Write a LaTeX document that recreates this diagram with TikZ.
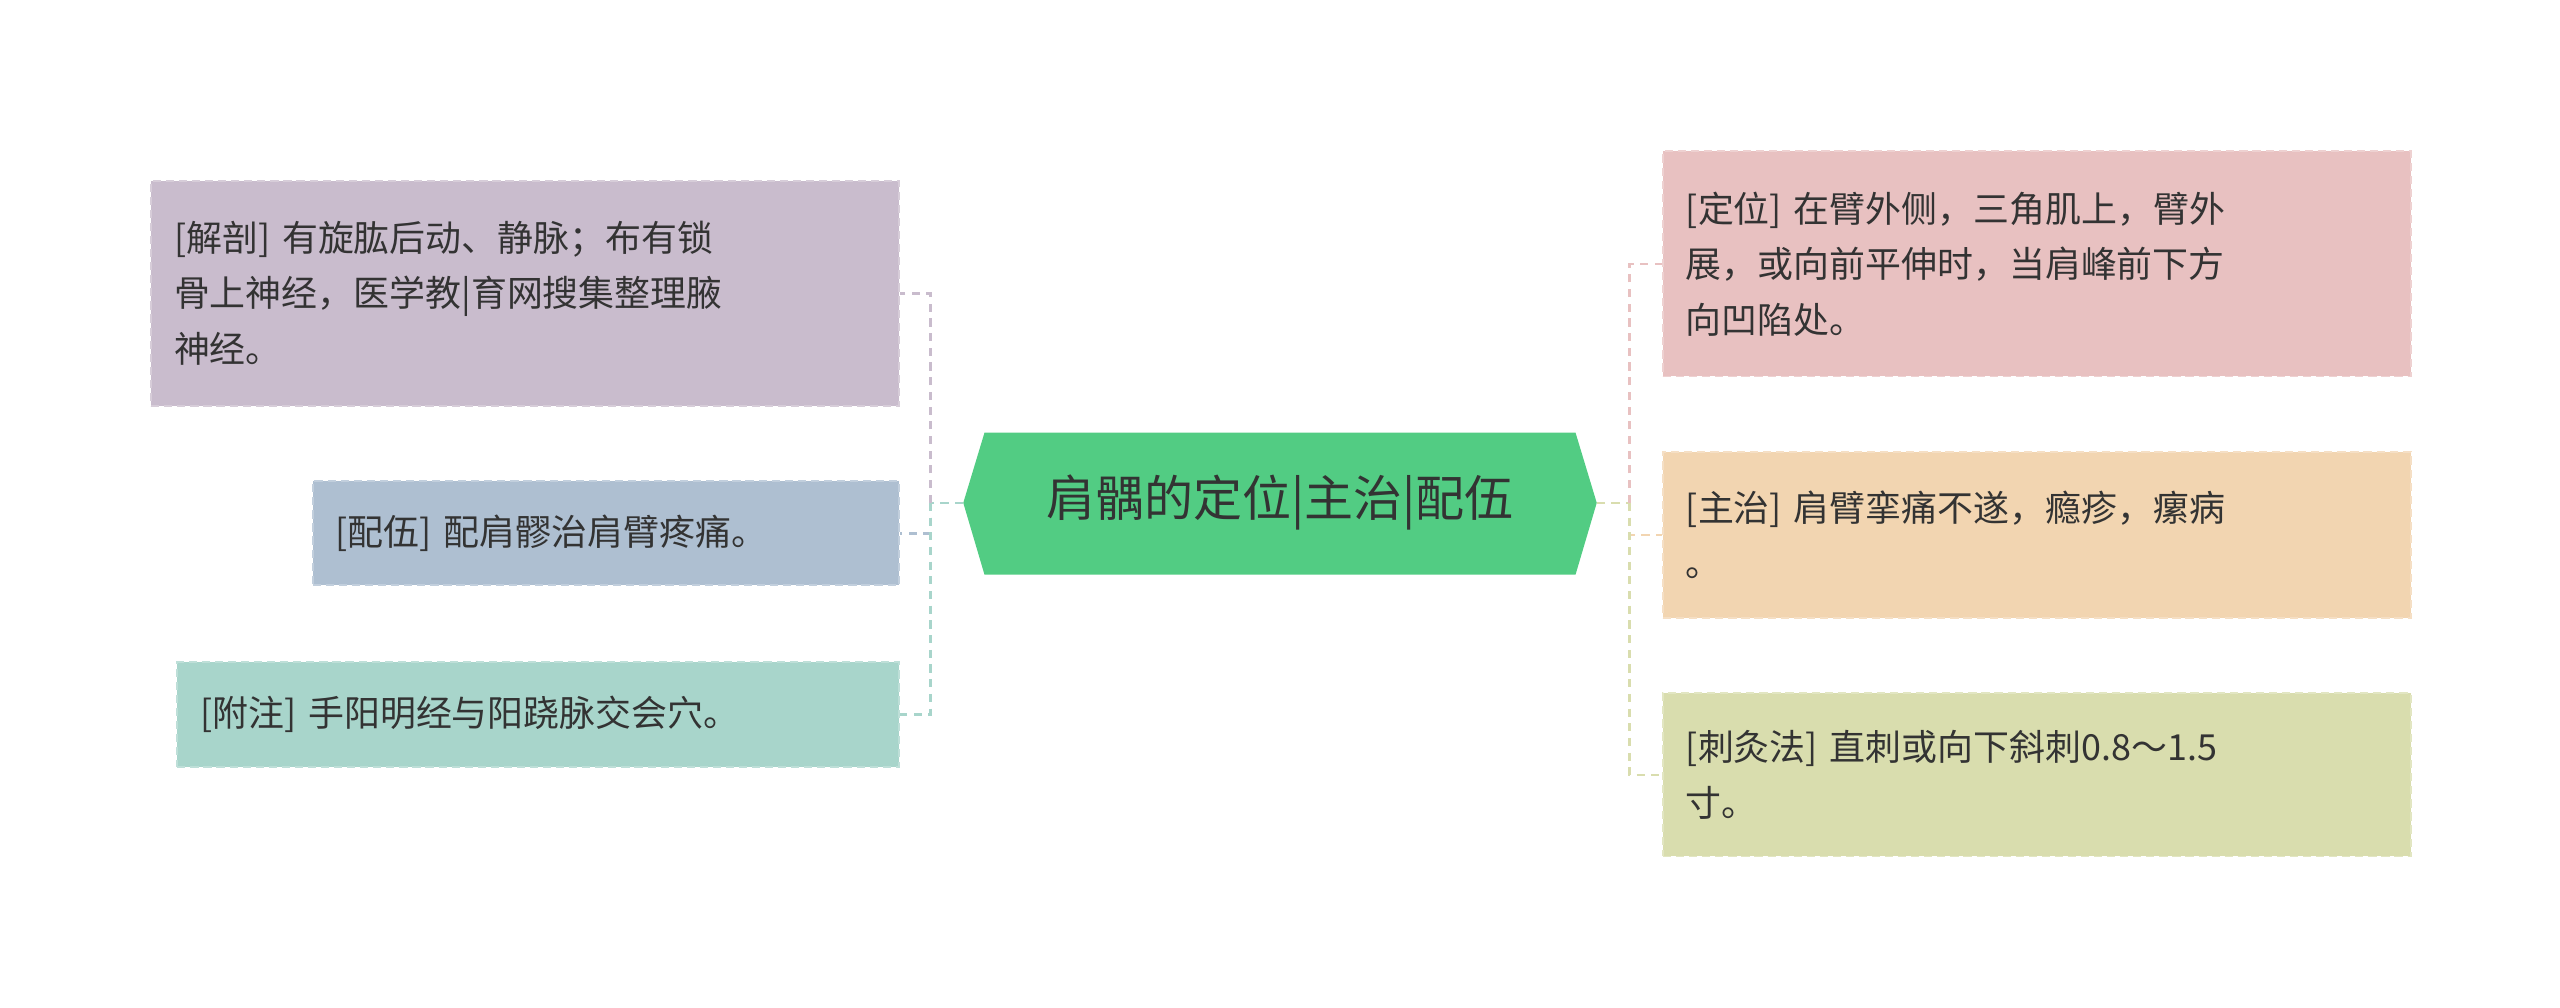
\documentclass[tikz,border=0pt]{standalone}
\usepackage{fontspec}
\setmainfont{Noto Sans CJK SC}
\usetikzlibrary{shapes.geometric}
\definecolor{cpur}{HTML}{C9BCCD}
\definecolor{cblu}{HTML}{AEBFD1}
\definecolor{cgrn}{HTML}{A8D5CB}
\definecolor{cred}{HTML}{E8C1C1}
\definecolor{cora}{HTML}{F2D5B1}
\definecolor{colv}{HTML}{D9DDAE}
\definecolor{chex}{HTML}{52CC83}
\definecolor{ctxt}{HTML}{333333}
\tikzset{
  leaf/.style={draw=#1!75!white, fill=#1, dashed, line width=1.2pt, dash pattern=on 5pt off 3pt, anchor=north west, inner xsep=14pt, inner ysep=0pt, font=\fontsize{22}{34}\selectfont, text=ctxt, align=left},
  conn/.style={draw=#1, line width=1.6pt, dash pattern=on 5pt off 4pt}
}
\begin{document}
\begin{tikzpicture}[x=1pt,y=-1pt]
\useasboundingbox (0,0) rectangle (1568,617);
% centre
\fill[chex] (590,308) -- (603,265) -- (965,265) -- (978,308) -- (965,352) -- (603,352) -- cycle;
\node (c) at (784,308) {\fontsize{30}{36}\selectfont\color{ctxt}肩髃的定位|主治|配伍};
\coordinate (cl) at (590,308);
\coordinate (cr) at (978,308);
% left boxes
\node[leaf=cpur, minimum width=458pt, minimum height=138pt, text width=430pt] (l1) at (92,110) {[解剖] 有旋肱后动、静脉；布有锁\\骨上神经，医学教|育网搜集整理腋\\神经。};
\node[leaf=cblu, minimum width=359pt, minimum height=64pt, text width=331pt] (l2) at (191,294) {[配伍] 配肩髎治肩臂疼痛。};
\node[leaf=cgrn, minimum width=442pt, minimum height=64pt, text width=414pt] (l3) at (108,405) {[附注] 手阳明经与阳跷脉交会穴。};
% right boxes
\node[leaf=cred, minimum width=458pt, minimum height=138pt, text width=430pt] (r1) at (1018,92) {[定位] 在臂外侧，三角肌上，臂外\\展，或向前平伸时，当肩峰前下方\\向凹陷处。};
\node[leaf=cora, minimum width=458pt, minimum height=102pt, text width=430pt] (r2) at (1018,276) {[主治] 肩臂挛痛不遂，瘾疹，瘰病\\。};
\node[leaf=colv, minimum width=458pt, minimum height=100pt, text width=430pt] (r3) at (1018,424) {[刺灸法] 直刺或向下斜刺0.8～1.5\\寸。};
% connectors
\coordinate (lj) at (570,308);
\coordinate (rj) at (998,308);
\draw[conn=cgrn] (cl) -- (lj);
\draw[conn=cpur] (lj) |- (l1.east);
\draw[conn=cblu] (lj) |- (l2.east);
\draw[conn=cgrn] (lj) |- (l3.east);
\draw[conn=colv] (cr) -- (rj);
\draw[conn=cred] (rj) |- (r1.west);
\draw[conn=cora] (rj) |- (r2.west);
\draw[conn=colv] (rj) |- (r3.west);
\end{tikzpicture}
\end{document}
